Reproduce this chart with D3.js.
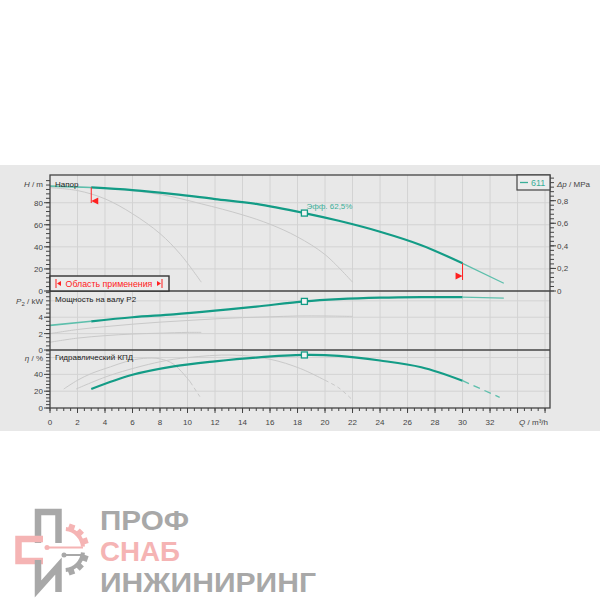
<!DOCTYPE html>
<html>
<head>
<meta charset="utf-8">
<script src="https://d3js.org/d3.v7.min.js"></script>
<style>
  body { margin: 0; background: #fff; }
  text { font-family: "Liberation Sans", Arial, sans-serif; }
</style>
</head>
<body>
<div id="chart"></div>
<script>
// ---- data ----
// pump 611, flow in m3/h
const qPump = [0, 3, 6, 9, 12, 15, 18.5, 21, 24, 27, 30, 33];
const headPump = [95, 93.8, 91.4, 87.8, 83.3, 78.9, 70.6, 63.6, 53.7, 41.5, 25.1, 7];
const powerPump = [3.0, 3.5, 4.0, 4.35, 4.8, 5.3, 5.93, 6.2, 6.38, 6.45, 6.45, 6.33];
const qEff = [3, 6, 9, 12, 15, 18.5, 21, 24, 27, 30, 32.7];
const effPump = [22.6, 39.5, 49.5, 55.5, 60, 63.1, 62, 56.5, 48.5, 32.5, 12.7];
const opRange = [3, 30];
const dutyQ = 18.5;
const dutyLabel = "Эфф.  62,5%";

// other impellers (grey)
const qHeadA = [0, 2, 4, 6, 8, 9.5, 11];
const headA = [93.6, 91, 83.5, 70, 52, 33, 8];
const qHeadB = [0, 4, 8, 11, 14, 16, 18, 20, 22];
const headB = [95, 93, 87.5, 79, 69, 60.5, 49, 33, 8];
const qPowA = [0, 2, 4, 6, 8, 10, 11];
const powA = [0.95, 1.45, 1.75, 1.95, 2.05, 2.15, 2.15];
const qPowB = [0, 2, 4, 6, 8, 10, 12, 14, 16, 18, 20, 22];
const powB = [2.0, 2.5, 2.85, 3.15, 3.4, 3.6, 3.8, 3.95, 4.05, 4.15, 4.15, 4.1];
const qEffA = [1, 2, 3, 4.4, 5.5, 6.8, 8, 9, 10.2, 10.9];
const effA = [22.6, 33, 41, 49, 55, 59, 58.5, 52, 31, 13.5];
const qEffB = [1.9, 4.4, 8, 10, 13.3, 16, 18.2, 20, 21, 22];
const effB = [22.6, 39, 55, 60, 63, 58, 47, 33, 24, 9.5];
const tailA = 10.2, tailB = 20;

const xTicks = d3.range(0, 37, 2);
const xLabels = d3.range(0, 33, 2);
const hTicks = [0, 20, 40, 60, 80];
const dpTicks = [0, 0.2, 0.4, 0.6, 0.8];
const pTicks = [0, 2, 4];
const eTicks = [0, 20, 40];

const teal = "#139c86", tealLight = "#5dbfac";
const gridCol = "#d3d3d3", curveGrey = "#c9c9c9";

const svg = d3.select("#chart").append("svg")
  .attr("width", 600).attr("height", 600);

svg.append("rect").attr("x", 0).attr("y", 165).attr("width", 600).attr("height", 266)
  .attr("fill", "#e8e8e8");

// scales
const x = d3.scaleLinear().domain([0, 36.36]).range([50, 550]);
const yH = d3.scaleLinear().domain([0, 105.1]).range([291, 175]);
const yDp = d3.scaleLinear().domain([0, 1.0276]).range([291, 175]);
const yP = d3.scaleLinear().domain([0, 7.2]).range([350, 291]);
const yE = d3.scaleLinear().domain([0, 69]).range([408, 350]);

// grid
const grid = svg.append("g").attr("stroke", gridCol).attr("stroke-width", 1);
xTicks.filter(d => d > 0).forEach(d => {
  grid.append("line").attr("x1", x(d)).attr("x2", x(d)).attr("y1", 175).attr("y2", 408);
});
[[yH, [20, 40, 60, 80]], [yP, [2, 4, 6]], [yE, [20, 40, 60]]].forEach(([s, vals]) => {
  vals.forEach(v => grid.append("line").attr("x1", 50).attr("x2", 550)
    .attr("y1", s(v)).attr("y2", s(v)));
});

const line = (s) => d3.line().x(d => x(d[0])).y(d => s(d[1])).curve(d3.curveCatmullRom.alpha(0.5));
const pts = (qs, vs, lo = -1, hi = 99) => qs.map((q, i) => [q, vs[i]]).filter(d => d[0] >= lo && d[0] <= hi);

function draw(data, s, col, w, dash) {
  svg.append("path").attr("d", line(s)(data)).attr("fill", "none")
    .attr("stroke", col).attr("stroke-width", w)
    .attr("stroke-dasharray", dash || null);
}

// grey curves
draw(pts(qHeadA, headA), yH, curveGrey, 1);
draw(pts(qHeadB, headB), yH, curveGrey, 1);
draw(pts(qPowA, powA), yP, curveGrey, 1);
draw(pts(qPowB, powB), yP, curveGrey, 1);
draw(pts(qEffA, effA, 0, tailA), yE, curveGrey, 1);
draw(pts(qEffA, effA, tailA), yE, curveGrey, 1, "4,3");
draw(pts(qEffB, effB, 0, tailB), yE, curveGrey, 1);
draw(pts(qEffB, effB, tailB), yE, curveGrey, 1, "4,3");

// pump curves
draw(pts(qPump, headPump, 0, opRange[0]), yH, tealLight, 1.6);
draw(pts(qPump, headPump, opRange[0], opRange[1]), yH, teal, 2.2);
draw(pts(qPump, headPump, opRange[1]), yH, tealLight, 1.3);
draw(pts(qPump, powerPump, 0, opRange[0]), yP, tealLight, 1.6);
draw(pts(qPump, powerPump, opRange[0], opRange[1]), yP, teal, 2.2);
draw(pts(qPump, powerPump, opRange[1]), yP, tealLight, 1.3);
draw(pts(qEff, effPump, opRange[0], opRange[1]), yE, teal, 2.2);
draw(pts(qEff, effPump, opRange[1]), yE, tealLight, 1.3, "7,5");

// duty point markers
const dH = headPump[qPump.indexOf(dutyQ)], dP = powerPump[qPump.indexOf(dutyQ)], dE = effPump[qEff.indexOf(dutyQ)];
[[yH, dH], [yP, dP], [yE, dE]].forEach(([s, v]) => {
  svg.append("rect").attr("x", x(dutyQ) - 3).attr("y", s(v) - 3).attr("width", 6).attr("height", 6)
    .attr("fill", "#f4f4f4").attr("stroke", teal).attr("stroke-width", 1.3);
});
svg.append("text").attr("x", x(dutyQ) + 2).attr("y", yH(dH) - 4)
  .attr("font-size", 8).attr("fill", "#3aae98").text(dutyLabel);

// operating range markers
const red = "#ff2020";
const hAt = q => headPump[qPump.indexOf(q)];
const r0 = x(opRange[0]), r1 = x(opRange[1]);
svg.append("line").attr("x1", r0).attr("x2", r0).attr("y1", yH(hAt(opRange[0]))).attr("y2", 203)
  .attr("stroke", red).attr("stroke-width", 1);
svg.append("path").attr("d", `M${r0},201 L${r0 + 7},197.5 L${r0 + 7},204.5 Z`).attr("fill", red);
svg.append("line").attr("x1", r1).attr("x2", r1).attr("y1", yH(hAt(opRange[1]))).attr("y2", 280)
  .attr("stroke", red).attr("stroke-width", 1);
svg.append("path").attr("d", `M${r1},276 L${r1 - 7},272.5 L${r1 - 7},279.5 Z`).attr("fill", red);

// frame
const frame = svg.append("g").attr("stroke", "#444").attr("fill", "none");
frame.append("rect").attr("x", 50).attr("y", 175).attr("width", 500).attr("height", 233).attr("stroke-width", 1.3);
frame.append("line").attr("x1", 50).attr("x2", 550).attr("y1", 291).attr("y2", 291).attr("stroke-width", 1.3);
frame.append("line").attr("x1", 50).attr("x2", 550).attr("y1", 350).attr("y2", 350).attr("stroke-width", 1.3);

// axes
const tickCol = "#444", labCol = "#444";
function leftAxis(s, majors, minorStep, maxV) {
  const g = svg.append("g").attr("stroke", tickCol);
  d3.range(0, maxV + 1e-6, minorStep).forEach(v => {
    g.append("line").attr("x1", 46).attr("x2", 50).attr("y1", s(v)).attr("y2", s(v));
  });
  majors.forEach(v => {
    g.append("line").attr("x1", 44).attr("x2", 50).attr("y1", s(v)).attr("y2", s(v));
    svg.append("text").attr("x", 43).attr("y", s(v) + 3).attr("text-anchor", "end")
      .attr("font-size", 8).attr("fill", labCol).text(v);
  });
}
leftAxis(yH, hTicks, 4, 100);
leftAxis(yP, pTicks, 0.5, 7);
leftAxis(yE, eTicks, 4, 68);

// right Δp axis
const rg = svg.append("g").attr("stroke", tickCol);
d3.range(0, 1.0001, 0.04).forEach(v => {
  rg.append("line").attr("x1", 550).attr("x2", 554).attr("y1", yDp(v)).attr("y2", yDp(v));
});
dpTicks.forEach(v => {
  rg.append("line").attr("x1", 550).attr("x2", 556).attr("y1", yDp(v)).attr("y2", yDp(v));
  svg.append("text").attr("x", 557).attr("y", yDp(v) + 3).attr("font-size", 8).attr("fill", labCol)
    .text(v === 0 ? "0" : d3.format(".1f")(v).replace(".", ","));
});

// bottom axis
const bg = svg.append("g").attr("stroke", tickCol);
d3.range(0, 36.01, 0.5).forEach(v => {
  bg.append("line").attr("x1", x(v)).attr("x2", x(v)).attr("y1", 408).attr("y2", 411);
});
xTicks.forEach(v => bg.append("line").attr("x1", x(v)).attr("x2", x(v)).attr("y1", 408).attr("y2", 413));
xLabels.forEach(v => {
  svg.append("text").attr("x", x(v)).attr("y", 425).attr("text-anchor", "middle")
    .attr("font-size", 8).attr("fill", labCol).text(v);
});

// axis titles
function title(xp, yp, anchor, parts) {
  const t = svg.append("text").attr("x", xp).attr("y", yp).attr("text-anchor", anchor)
    .attr("font-size", 8).attr("fill", labCol);
  parts.forEach(p => {
    const s = t.append("tspan").text(p[0]);
    if (p[1] === "i") s.attr("font-style", "italic");
    if (p[1] === "sub") s.attr("font-size", 6).attr("dy", 2);
    if (p[1] === "back") s.attr("dy", -2);
  });
}
title(43, 187, "end", [["H", "i"], [" / m"]]);
title(43, yP(6) + 3, "end", [["P", "i"], ["2", "sub"], [" / kW", "back"]]);
title(43, yE(60) + 3, "end", [["η", "i"], [" / %"]]);
title(557, 187, "start", [["Δp", "i"], [" / MPa"]]);
title(548, 425, "end", [["Q", "i"], [" / m³/h"]]);

// panel names
const names = [["Напор", 187], ["Мощность на валу P2", 302], ["Гидравлический КПД", 360]];
names.forEach(([n, yp]) => svg.append("text").attr("x", 55).attr("y", yp)
  .attr("font-size", 8).attr("fill", "#222").text(n));

// legend
svg.append("rect").attr("x", 517).attr("y", 175).attr("width", 33).attr("height", 15)
  .attr("fill", "#ececec").attr("stroke", "#444").attr("stroke-width", 1.2);
svg.append("line").attr("x1", 520).attr("x2", 528).attr("y1", 182.5).attr("y2", 182.5)
  .attr("stroke", "#3aae98").attr("stroke-width", 1.3);
svg.append("text").attr("x", 531).attr("y", 186).attr("font-size", 9).attr("fill", "#3aae98").text("611");

// range box
svg.append("rect").attr("x", 50).attr("y", 276).attr("width", 119).attr("height", 15)
  .attr("fill", "#ececec").attr("stroke", "#333").attr("stroke-width", 1.4);
svg.append("text").attr("x", 109).attr("y", 287).attr("text-anchor", "middle")
  .attr("font-size", 8.8).attr("fill", red).text("Область применения");
svg.append("line").attr("x1", 56).attr("x2", 56).attr("y1", 279).attr("y2", 288).attr("stroke", red);
svg.append("path").attr("d", "M57,283.5 L61,281 L61,286 Z").attr("fill", red);
svg.append("line").attr("x1", 162).attr("x2", 162).attr("y1", 279).attr("y2", 288).attr("stroke", red);
svg.append("path").attr("d", "M161,283.5 L157,281 L157,286 Z").attr("fill", red);

// ---- logo ----
const lg = "#a8a8a8", lp = "#f5b4b4";
const logo = svg.append("g").attr("fill", "none").attr("stroke-width", 6.5);
logo.append("path").attr("d", "M38,543 V512 H58.5 V543").attr("stroke", lg);
logo.append("path").attr("d", "M43,539 H18.5 V561 H43").attr("stroke", lp);
logo.append("path").attr("d", "M38,560 V589 L58.5,566 V592").attr("stroke", lg);
const gearArc = d3.arc().innerRadius(17).outerRadius(21);
svg.append("path").attr("transform", "translate(64,548)")
  .attr("d", gearArc({startAngle: 0.1, endAngle: 1.5})).attr("fill", lp);
svg.append("path").attr("transform", "translate(64,551)")
  .attr("d", gearArc({startAngle: 1.65, endAngle: 3.05})).attr("fill", lg);
[0.35, 0.8, 1.25].forEach(a => {
  svg.append("rect").attr("x", -3).attr("y", -25).attr("width", 6).attr("height", 6)
    .attr("fill", lp).attr("transform", `translate(64,548) rotate(${a * 180 / Math.PI})`);
});
[1.9, 2.35, 2.8].forEach(a => {
  svg.append("rect").attr("x", -3).attr("y", -25).attr("width", 6).attr("height", 6)
    .attr("fill", lg).attr("transform", `translate(64,551) rotate(${a * 180 / Math.PI})`);
});
svg.append("line").attr("x1", 47).attr("x2", 83).attr("y1", 547.5).attr("y2", 547.5).attr("stroke", lp).attr("stroke-width", 2);
svg.append("circle").attr("cx", 47).attr("cy", 547.5).attr("r", 2.5).attr("fill", lp);
svg.append("line").attr("x1", 64).attr("x2", 83).attr("y1", 555).attr("y2", 555).attr("stroke", lg).attr("stroke-width", 2);
svg.append("circle").attr("cx", 64).attr("cy", 555).attr("r", 2.5).attr("fill", lg);

const words = [["ПРОФ", 530, 89, lg], ["СНАБ", 561, 80, lp], ["ИНЖИНИРИНГ", 592, 216, lg]];
words.forEach(([w, yp, wd, c]) => {
  svg.append("text").attr("x", 100).attr("y", yp).attr("font-size", 27)
    .attr("font-family", "Roboto").attr("font-weight", 700)
    .attr("textLength", wd).attr("lengthAdjust", "spacingAndGlyphs")
    .attr("fill", c).text(w);
});
</script>
</body>
</html>
